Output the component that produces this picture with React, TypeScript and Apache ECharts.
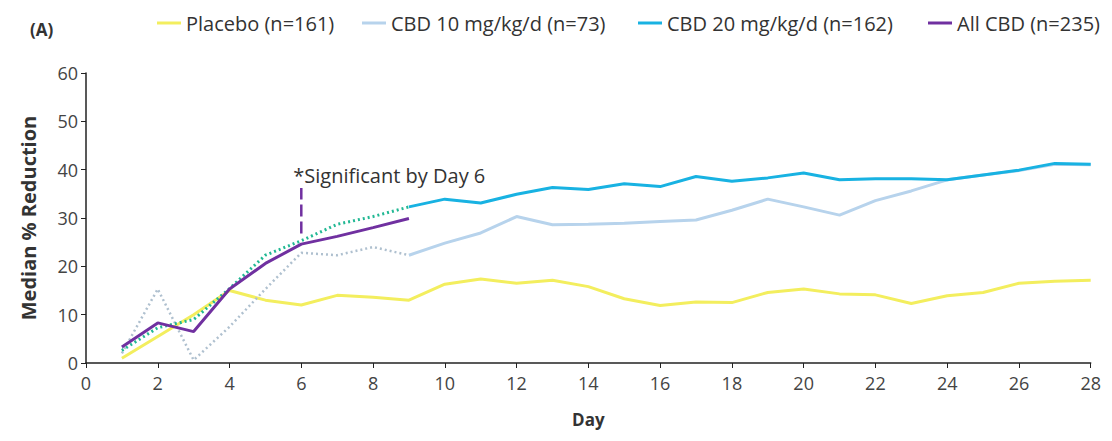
import React, { useEffect, useRef } from "react";
import * as echarts from "echarts";

// Study days 1..28
const days = Array.from({ length: 28 }, (_, i) => i + 1);

// Median % reduction by day
const placebo = [1, 5.5, 10, 15, 13, 12, 14, 13.6, 13, 16.3, 17.4, 16.5, 17.1, 15.8, 13.3, 11.9, 12.6, 12.5, 14.6, 15.3, 14.3, 14.1, 12.3, 13.9, 14.6, 16.5, 16.9, 17.1];
const cbd10 = [2, 15.3, 0.6, 7.5, 15.3, 22.8, 22.3, 24, 22.3, 24.8, 26.9, 30.3, 28.6, 28.7, 28.9, 29.3, 29.6, 31.6, 33.9, 32.3, 30.6, 33.6, 35.6, 37.9, 38.9, 39.8, 41.1, 41];
const cbd20 = [2.6, 7.3, 9, 15.4, 22.3, 25.3, 28.7, 30.3, 32.3, 33.9, 33.1, 34.9, 36.3, 35.9, 37.1, 36.5, 38.6, 37.6, 38.3, 39.3, 37.9, 38.1, 38.1, 37.9, 38.9, 39.9, 41.3, 41.1];
const allCbd = [3.3, 8.3, 6.5, 15.3, 20.6, 24.6, 26.2, 28, 29.9];

// Early days are drawn dotted, from day 9 on solid
const splitDay = 9;

const yTicks = { min: 0, max: 60, interval: 10 };
const xTicks = { min: 0, max: 28, interval: 2 };

const sigDay = 6;
const sigRange = [26.8, 36.2];
const sigText = "*Significant by Day 6";

const legendNames = ["Placebo (n=161)", "CBD 10 mg/kg/d (n=73)", "CBD 20 mg/kg/d (n=162)", "All CBD (n=235)"];
// left edge of each legend entry
const legendLefts = [144, 349, 625, 915];

const colors = {
  placebo: "#F3EE5E",
  cbd10: "#B7D3EC",
  cbd10Early: "#AFC0CF",
  cbd20: "#18B2E2",
  cbd20Early: "#22B894",
  all: "#7030A0",
};

const pairs = (vals: number[], from = 1, to = 28) =>
  days.filter((d) => d >= from && d <= to && vals[d - 1] !== undefined).map((d) => [d, vals[d - 1]]);

export default function App() {
  const ref = useRef<HTMLDivElement>(null);

  useEffect(() => {
    if (!ref.current) return;
    const chart = echarts.init(ref.current, undefined, { renderer: "svg" });
    const font = "'Open Sans', 'Liberation Sans', sans-serif";
    const axisLine = { lineStyle: { color: "#222", width: 1.5 } };
    chart.setOption({
      animation: false,
      textStyle: { fontFamily: font },
      grid: { left: 78, right: 10, top: 65, bottom: 60 },
      legend: legendNames.map((name, i) => ({
        top: 0,
        left: legendLefts[i],
        itemWidth: 24,
        itemHeight: 3,
        icon: "rect",
        textStyle: { fontSize: 20, color: "#333", fontFamily: font },
        data: [name],
      })),
      graphic: [
        {
          type: "text",
          left: 22,
          top: 13,
          style: { text: "(A)", fontSize: 17, fontWeight: "bold", fill: "#333", fontFamily: font },
        },
      ],
      xAxis: {
        type: "value",
        ...xTicks,
        name: "Day",
        nameLocation: "middle",
        nameGap: 48,
        nameTextStyle: { fontSize: 17, fontWeight: "bold", color: "#333" },
        axisLine,
        axisTick: { show: true, length: 5, lineStyle: { color: "#222" } },
        axisLabel: { fontSize: 18, color: "#444", margin: 11 },
        splitLine: { show: false },
      },
      yAxis: {
        type: "value",
        ...yTicks,
        name: "Median % Reduction",
        nameLocation: "middle",
        nameGap: 48,
        nameTextStyle: { fontSize: 20, fontWeight: "bold", color: "#333" },
        axisLine: { show: true, ...axisLine },
        axisTick: { show: true, length: 5, lineStyle: { color: "#222" } },
        axisLabel: { fontSize: 18, color: "#444", margin: 8 },
        splitLine: { show: false },
      },
      series: [
        {
          name: legendNames[0],
          type: "line",
          data: pairs(placebo),
          showSymbol: false,
          color: colors.placebo,
          lineStyle: { width: 3, color: colors.placebo },
        },
        {
          name: "CBD 10 early",
          type: "line",
          data: pairs(cbd10, 1, splitDay),
          showSymbol: false,
          color: colors.cbd10Early,
          lineStyle: { width: 2.5, type: [2, 3], color: colors.cbd10Early },
        },
        {
          name: legendNames[1],
          type: "line",
          data: pairs(cbd10, splitDay),
          showSymbol: false,
          color: colors.cbd10,
          lineStyle: { width: 3, color: colors.cbd10 },
        },
        {
          name: "CBD 20 early",
          type: "line",
          data: pairs(cbd20, 1, splitDay),
          showSymbol: false,
          color: colors.cbd20Early,
          lineStyle: { width: 3, type: [2, 3], color: colors.cbd20Early },
        },
        {
          name: legendNames[2],
          type: "line",
          data: pairs(cbd20, splitDay),
          showSymbol: false,
          color: colors.cbd20,
          lineStyle: { width: 3, color: colors.cbd20 },
        },
        {
          name: legendNames[3],
          type: "line",
          data: pairs(allCbd, 1, splitDay),
          showSymbol: false,
          color: colors.all,
          lineStyle: { width: 3, color: colors.all },
        },
        {
          name: "significance",
          type: "line",
          data: [
            [sigDay, sigRange[0]],
            {
              value: [sigDay, sigRange[1]],
              label: {
                show: true,
                formatter: sigText,
                position: "top",
                align: "left",
                offset: [-8, 2],
                fontSize: 20,
                color: "#333",
                fontFamily: font,
              },
            },
          ],
          showSymbol: true,
          symbol: "circle",
          symbolSize: 0,
          color: colors.all,
          lineStyle: { width: 2.5, type: [12, 5], color: colors.all },
          z: 5,
        },
      ],
    });
    return () => chart.dispose();
  }, []);

  return <div ref={ref} style={{ width: 1096, height: 425 }} />;
}
